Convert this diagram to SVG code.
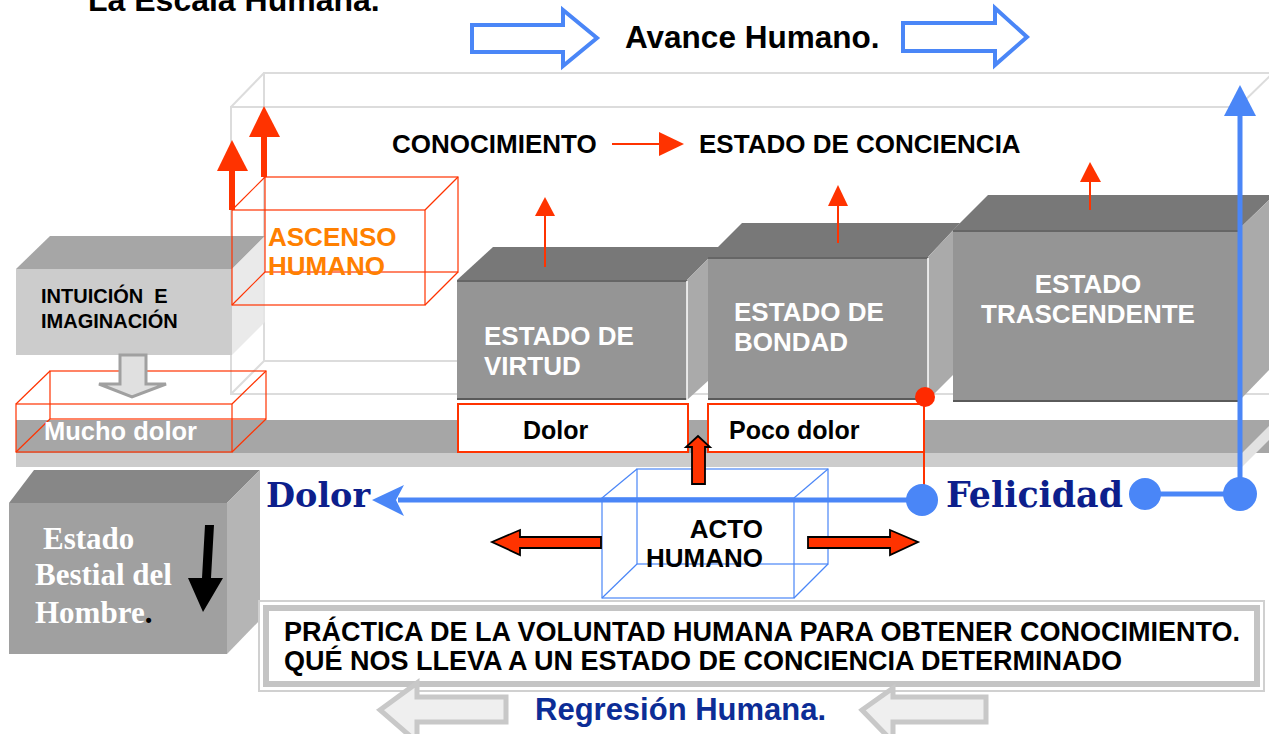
<svg xmlns="http://www.w3.org/2000/svg" width="1269" height="734" viewBox="0 0 1269 734">
<style>
.sans{font-family:"Liberation Sans",Arial,sans-serif;font-weight:bold}
.serif{font-family:"DejaVu Serif",serif;font-weight:bold;fill:#0d1f8c}
.tserif{font-family:"Liberation Serif","Times New Roman",serif;font-weight:bold;fill:#ffffff}
.wire{fill:none;stroke:#dcdcdc;stroke-width:2}
.redwire{fill:none;stroke:#ff3300;stroke-width:1.2}
.bluewire{fill:none;stroke:#4a86f7;stroke-width:1.2}
.front{fill:#959595}
.top{fill:#787878}
.side{fill:#aaaaaa}
.wt{fill:#ffffff}
.thin{stroke:#ff3300;stroke-width:2;fill:none}
.redfill{fill:#ff3300}
.blk{fill:#ff3300;stroke:#000;stroke-width:1.8}
.blue{stroke:#4a86f7;stroke-width:5;fill:none}
.bluefill{fill:#4a86f7}
</style>
<rect width="1269" height="734" fill="#ffffff"/>

<text class="sans" x="88" y="11" font-size="32">La Escala Humana.</text>

<g id="frame">
<polyline class="wire" points="1269,73 264,73 264,361 1269,361"/>
<polyline class="wire" points="1238,107 231,107 231,394 1269,394"/>
<line class="wire" x1="264" y1="73" x2="231" y2="107"/>
<line class="wire" x1="264" y1="361" x2="231" y2="394"/>
<line class="wire" x1="1273" y1="73" x2="1238" y2="107" stroke-width="1"/>
</g>

<g id="platform">
<rect x="16" y="420" width="1253" height="33" fill="#a6a6a6"/>
<rect x="16" y="453" width="1226" height="14" fill="#cccccc"/>
<polygon points="1242,453 1269,426 1269,440 1242,467" fill="#e2e2e2"/>
</g>

<g id="intuicion">
<polygon points="16,269 50,236 265,236 232,269" fill="#a6a6a6"/>
<polygon points="232,269 265,236 265,322 232,355" fill="#e6e6e6" opacity="0.85"/>
<rect x="16" y="269" width="216" height="86" fill="#cccccc"/>
<text class="sans" x="41" y="303" font-size="20" xml:space="preserve">INTUICIÓN  E</text>
<text class="sans" x="41" y="328" font-size="20">IMAGINACIÓN</text>
</g>

<g id="mucho-dolor">
<rect class="redwire" x="50" y="371" width="216" height="48"/>
<rect class="redwire" x="16" y="404" width="216" height="48"/>
<line class="redwire" x1="16" y1="404" x2="50" y2="371"/>
<line class="redwire" x1="232" y1="404" x2="266" y2="371"/>
<line class="redwire" x1="16" y1="452" x2="50" y2="419"/>
<line class="redwire" x1="232" y1="452" x2="266" y2="419"/>
<text class="sans wt" x="44" y="440" font-size="25.5">Mucho dolor</text>
</g>

<g id="ascenso">
<rect class="redwire" x="265" y="177" width="193" height="95"/>
<rect class="redwire" x="232" y="210" width="193" height="95"/>
<line class="redwire" x1="232" y1="210" x2="265" y2="177"/>
<line class="redwire" x1="425" y1="210" x2="458" y2="177"/>
<line class="redwire" x1="232" y1="305" x2="265" y2="272"/>
<line class="redwire" x1="425" y1="305" x2="458" y2="272"/>
<text class="sans" x="268" y="246" font-size="26" fill="#ff8000">ASCENSO</text>
<text class="sans" x="268" y="275" font-size="26" fill="#ff8000">HUMANO</text>
</g>

<g id="virtud">
<polygon class="top" points="457,280 493,247 720,247 687,280"/>
<polygon class="side" points="687,280 720,247 720,370 687,400"/>
<rect class="front" x="457" y="280" width="230" height="120"/>
<line x1="457" y1="281" x2="687" y2="281" stroke="#666" stroke-width="2"/>
<line x1="457" y1="399" x2="687" y2="399" stroke="#5a5a5a" stroke-width="2"/>
<line x1="687" y1="281" x2="687" y2="400" stroke="#fff" stroke-width="1.5"/>
<text class="sans wt" x="484" y="345" font-size="26">ESTADO DE</text>
<text class="sans wt" x="484" y="375" font-size="26">VIRTUD</text>
</g>

<g id="bondad">
<polygon class="top" points="708,257 742,223 960,223 928,257"/>
<polygon class="side" points="928,257 960,223 960,368 928,400"/>
<rect class="front" x="708" y="257" width="220" height="143"/>
<line x1="708" y1="258" x2="928" y2="258" stroke="#666" stroke-width="2"/>
<line x1="708" y1="399" x2="928" y2="399" stroke="#5a5a5a" stroke-width="2"/>
<line x1="928" y1="258" x2="928" y2="400" stroke="#fff" stroke-width="1.5"/>
<text class="sans wt" x="734" y="321" font-size="26">ESTADO DE</text>
<text class="sans wt" x="734" y="351" font-size="26">BONDAD</text>
</g>

<g id="trascendente">
<polygon class="top" points="953,230 988,195 1269,195 1269,200 1238,230"/>
<polygon class="side" points="1238,230 1269,200 1269,370 1238,402"/>
<rect class="front" x="953" y="230" width="285" height="172"/>
<line x1="953" y1="231" x2="1238" y2="231" stroke="#666" stroke-width="2"/>
<line x1="953" y1="401" x2="1238" y2="401" stroke="#5a5a5a" stroke-width="2"/>
<text class="sans wt" x="1088" y="293" font-size="26" text-anchor="middle">ESTADO</text>
<text class="sans wt" x="1088" y="323" font-size="26" text-anchor="middle">TRASCENDENTE</text>
</g>

<g id="dolor-box">
<rect x="458" y="404" width="230" height="48" fill="#fff" stroke="#ff3300" stroke-width="2"/>
<text class="sans" x="523" y="439" font-size="25">Dolor</text>
</g>
<g id="poco-dolor-box">
<rect x="708" y="404" width="216" height="48" fill="#fff" stroke="#ff3300" stroke-width="2"/>
<text class="sans" x="729" y="439" font-size="25">Poco dolor</text>
</g>

<g id="bestial">
<polygon points="9,503 34,470 260,470 227,503" fill="#878787"/>
<polygon points="227,503 260,470 260,620 227,654" fill="#b5b5b5"/>
<rect x="9" y="503" width="218" height="151" fill="#a0a0a0"/>
<text class="tserif" x="43" y="549" font-size="31">Estado</text>
<text class="tserif" x="35" y="585" font-size="31">Bestial del</text>
<text class="tserif" x="35" y="623" font-size="31">Hombre<tspan fill="#000">.</tspan></text>
<polygon points="205,525 214,525 211,578 223,578 203,612 188,578 202,578" fill="#000"/>
</g>

<g id="acto">
<rect class="bluewire" x="637" y="469" width="191" height="95"/>
<rect class="bluewire" x="602" y="498" width="192" height="100"/>
<line class="bluewire" x1="602" y1="498" x2="637" y2="469"/>
<line class="bluewire" x1="794" y1="498" x2="828" y2="469"/>
<line class="bluewire" x1="602" y1="598" x2="637" y2="564"/>
<line class="bluewire" x1="794" y1="598" x2="828" y2="564"/>
<text class="sans" x="763" y="538" font-size="26" text-anchor="end">ACTO</text>
<text class="sans" x="763" y="567" font-size="26" text-anchor="end">HUMANO</text>
</g>

<g id="connectors">
<polygon points="472,25 563,25 563,10 597,38 563,66 563,52 472,52" fill="#fff" stroke="#4a86f7" stroke-width="4"/>
<polygon points="903,23 995,23 995,8 1027,37 995,65 995,51 903,51" fill="#fff" stroke="#4a86f7" stroke-width="4"/>
<line class="thin" x1="612" y1="144" x2="662" y2="144" stroke-width="3"/>
<polygon class="redfill" points="659,132 684,144 659,156"/>
<rect class="redfill" x="229" y="168" width="6" height="42"/>
<polygon class="redfill" points="232,140 248,171 217,171"/>
<rect class="redfill" x="261" y="134" width="6" height="43"/>
<polygon class="redfill" points="264,106 280,137 249,137"/>
<line class="thin" x1="545" y1="267" x2="545" y2="214"/>
<polygon class="redfill" points="545,197 555,216 535,216"/>
<line class="thin" x1="838" y1="243" x2="838" y2="204"/>
<polygon class="redfill" points="838,185 848,206 828,206"/>
<line class="thin" x1="1090" y1="210" x2="1090" y2="180"/>
<polygon class="redfill" points="1090,162 1101,182 1080,182"/>
<polygon points="120,355 146,355 146,384 166,384 132,397 99,384 120,384" fill="#e0e0e0" stroke="#a0a0a0" stroke-width="3"/>
<line class="thin" x1="924" y1="397" x2="924" y2="490" stroke-width="1.8"/>
<circle cx="925" cy="397" r="10" fill="#ff2a00"/>
<line class="blue" x1="922" y1="500" x2="398" y2="500"/>
<polygon class="bluefill" points="372,500 404,485 396,500 404,516"/>
<circle class="bluefill" cx="922" cy="500" r="16"/>
<line class="blue" x1="1145" y1="494" x2="1240" y2="494"/>
<line class="blue" x1="1240" y1="494" x2="1240" y2="112"/>
<polygon class="bluefill" points="1240,85 1256,116 1224,116"/>
<circle class="bluefill" cx="1145" cy="494" r="16"/>
<circle class="bluefill" cx="1240" cy="494" r="17"/>
<polygon class="blk" points="692,484 705,484 705,447 710,447 698,436 686,447 692,447"/>
<polygon class="blk" points="601,537 601,548 520,548 520,555 492,542 520,530 520,537"/>
<polygon class="blk" points="808,537 808,548 890,548 890,555 918,542 890,530 890,537"/>
</g>

<text id="felicidad" class="serif" x="946" y="507" font-size="34.8">Felicidad</text>
<text id="dolor" class="serif" x="266" y="507" font-size="33.5">Dolor</text>

<text class="sans" x="392" y="153" font-size="26">CONOCIMIENTO</text>
<text class="sans" x="699" y="153" font-size="26">ESTADO DE CONCIENCIA</text>
<text class="sans" x="625" y="48" font-size="31.5">Avance Humano.</text>

<g id="practica">
<rect x="259" y="601" width="1005" height="90" fill="#fff" stroke="#d0d0d0" stroke-width="2"/>
<rect x="266" y="608" width="991" height="76" fill="#fff" stroke="#c4c4c4" stroke-width="6"/>
<text class="sans" x="284" y="641" font-size="27">PRÁCTICA DE LA VOLUNTAD HUMANA PARA OBTENER CONOCIMIENTO.</text>
<text class="sans" x="284" y="670" font-size="27">QUÉ NOS LLEVA A UN ESTADO DE CONCIENCIA DETERMINADO</text>
</g>

<g id="regresion">
<polygon points="380,710 417,683 417,697 506,697 506,722 417,722 417,742" fill="#efefef" stroke="#c8c8c8" stroke-width="5"/>
<polygon points="862,710 893,688 893,697 986,697 986,722 893,722 893,742" fill="#efefef" stroke="#c8c8c8" stroke-width="5"/>
<text class="sans" x="535" y="720" font-size="31" fill="#0c2d96">Regresión Humana.</text>
</g>
</svg>
